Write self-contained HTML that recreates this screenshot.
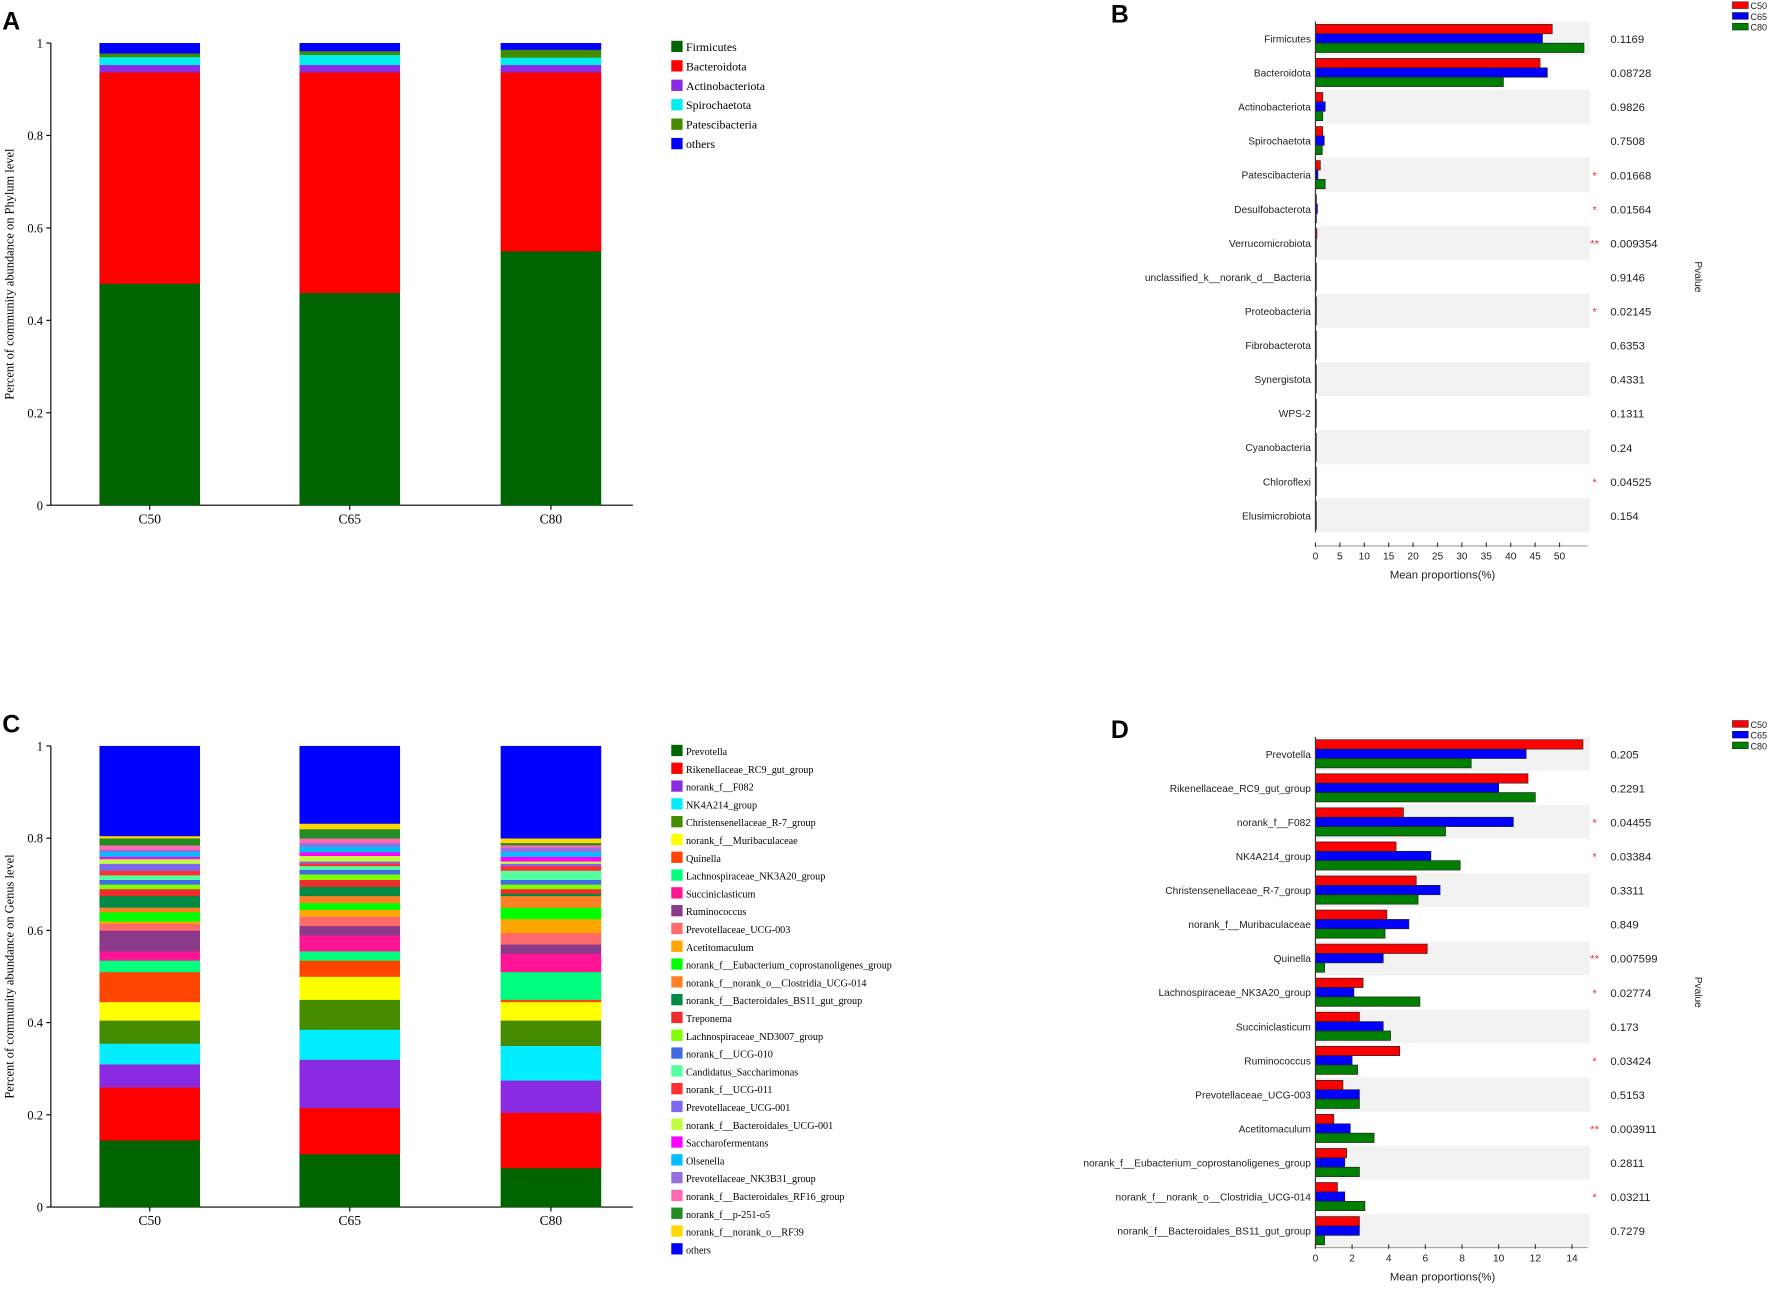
<!DOCTYPE html>
<html><head><meta charset="utf-8"><style>
html,body{margin:0;padding:0;background:#fff;}
svg{display:block;}
.ser{font-family:"Liberation Serif",serif;}
.san{font-family:"Liberation Sans",sans-serif;}
</style></head><body>
<svg id="fig" width="1772" height="1293" viewBox="0 0 1568 1144" xmlns="http://www.w3.org/2000/svg">
<rect width="1568" height="1144" fill="#fff"/>
<g id="pa"></g>
<g id="pb"></g>
<g id="pc"></g>
<g id="pd"></g>
</svg>
<script>
// ---------- Data ----------
const groups = ["C50","C65","C80"];
const phylaA = ["Firmicutes","Bacteroidota","Actinobacteriota","Spirochaetota","Patescibacteria","others"];
const phylaColors = ["#006400","#ff0000","#8a2be2","#00eeee","#458b00","#0000ff"];
const phylaC50 = [0.48,0.457,0.016,0.017,0.008,0.022];
const phylaC65 = [0.46,0.477,0.016,0.022,0.008,0.017];
const phylaC80 = [0.55,0.387,0.016,0.016,0.017,0.014];

const generaC = ["Prevotella","Rikenellaceae_RC9_gut_group","norank_f__F082","NK4A214_group","Christensenellaceae_R-7_group","norank_f__Muribaculaceae","Quinella","Lachnospiraceae_NK3A20_group","Succiniclasticum","Ruminococcus","Prevotellaceae_UCG-003","Acetitomaculum","norank_f__Eubacterium_coprostanoligenes_group","norank_f__norank_o__Clostridia_UCG-014","norank_f__Bacteroidales_BS11_gut_group","Treponema","Lachnospiraceae_ND3007_group","norank_f__UCG-010","Candidatus_Saccharimonas","norank_f__UCG-011","Prevotellaceae_UCG-001","norank_f__Bacteroidales_UCG-001","Saccharofermentans","Olsenella","Prevotellaceae_NK3B31_group","norank_f__Bacteroidales_RF16_group","norank_f__p-251-o5","norank_f__norank_o__RF39","others"];
const generaColors = ["#006400","#ff0000","#8a2be2","#00eeff","#458b00","#ffff00","#ff4500","#00ff7f","#ff1493","#8b3a8b","#ff6a6a","#ffa500","#00ff00","#ff7f24","#008b45","#ee2c2c","#7fff00","#4169e1","#54ff9f","#ff3030","#7b68ee","#c0ff3e","#ff00ff","#00bfff","#9370db","#ff69b4","#228b22","#ffd700","#0000ff"];
const generaC50 = [0.145,0.115,0.05,0.045,0.05,0.04,0.065,0.025,0.02,0.045,0.015,0.005,0.02,0.01,0.025,0.015,0.01,0.01,0.01,0.01,0.015,0.01,0.005,0.01,0.005,0.01,0.015,0.005,0.195];
const generaC65 = [0.115,0.10,0.105,0.065,0.065,0.05,0.035,0.02,0.035,0.02,0.02,0.015,0.015,0.015,0.02,0.015,0.012,0.01,0.008,0.006,0.004,0.012,0.008,0.012,0.008,0.01,0.02,0.012,0.168];
const generaC80 = [0.085,0.12,0.07,0.075,0.055,0.04,0.005,0.06,0.04,0.02,0.025,0.03,0.025,0.025,0.005,0.01,0.01,0.01,0.02,0.01,0.005,0.005,0.01,0.01,0.01,0.005,0.005,0.01,0.2];

const namesB = ["Firmicutes","Bacteroidota","Actinobacteriota","Spirochaetota","Patescibacteria","Desulfobacterota","Verrucomicrobiota","unclassified_k__norank_d__Bacteria","Proteobacteria","Fibrobacterota","Synergistota","WPS-2","Cyanobacteria","Chloroflexi","Elusimicrobiota"];
const bC50 = [48.5,46,1.5,1.5,1,0.2,0.3,0.1,0.2,0.1,0.1,0.1,0.1,0.1,0.1];
const bC65 = [46.5,47.5,2,1.8,0.5,0.4,0.1,0.1,0.1,0.1,0.1,0.1,0.1,0.1,0.1];
const bC80 = [55,38.5,1.5,1.4,2,0.2,0.1,0.1,0.1,0.1,0.1,0.1,0.1,0.1,0.1];
const pB = ["0.1169","0.08728","0.9826","0.7508","0.01668","0.01564","0.009354","0.9146","0.02145","0.6353","0.4331","0.1311","0.24","0.04525","0.154"];
const starsB = ["","","","","*","*","**","","*","","","","","*",""];
const ticksB = [0,5,10,15,20,25,30,35,40,45,50];

const namesD = ["Prevotella","Rikenellaceae_RC9_gut_group","norank_f__F082","NK4A214_group","Christensenellaceae_R-7_group","norank_f__Muribaculaceae","Quinella","Lachnospiraceae_NK3A20_group","Succiniclasticum","Ruminococcus","Prevotellaceae_UCG-003","Acetitomaculum","norank_f__Eubacterium_coprostanoligenes_group","norank_f__norank_o__Clostridia_UCG-014","norank_f__Bacteroidales_BS11_gut_group"];
const dC50 = [14.6,11.6,4.8,4.4,5.5,3.9,6.1,2.6,2.4,4.6,1.5,1.0,1.7,1.2,2.4];
const dC65 = [11.5,10.0,10.8,6.3,6.8,5.1,3.7,2.1,3.7,2.0,2.4,1.9,1.6,1.6,2.4];
const dC80 = [8.5,12.0,7.1,7.9,5.6,3.8,0.5,5.7,4.1,2.3,2.4,3.2,2.4,2.7,0.5];
const pD = ["0.205","0.2291","0.04455","0.03384","0.3311","0.849","0.007599","0.02774","0.173","0.03424","0.5153","0.003911","0.2811","0.03211","0.7279"];
const starsD = ["","","*","*","","","**","*","","*","","**","","*",""];
const ticksD = [0,2,4,6,8,10,12,14];

const tickStack = [0,0.2,0.4,0.6,0.8,1];
// ---------- Helpers ----------
const NS="http://www.w3.org/2000/svg";
function el(parent,tag,attrs,text){const e=document.createElementNS(NS,tag);for(const k in attrs)e.setAttribute(k,attrs[k]);if(text!==undefined)e.textContent=text;parent.appendChild(e);return e;}

// ---------- Stacked panels ----------
function stacked(gid,letter,top,bottom,series,names,colors,ytitle,legY,legStep,swatch,fontSize){
  const g=document.getElementById(gid);
  const ys=v=>bottom-(bottom-top)*v;
  const barX=[88,265,443], barW=89;
  const L=el(g,'text',{x:2,y:top-12,'font-size':22,'font-weight':'bold',class:'san'},letter);
  
  
  const ax=el(g,'line',{x1:45,y1:top,x2:45,y2:bottom,stroke:'#000','stroke-width':1});
  
  
  el(g,'line',{x1:45,y1:bottom,x2:560,y2:bottom,stroke:'#000','stroke-width':1});
  tickStack.forEach(t=>{
    el(g,'line',{x1:41,y1:ys(t),x2:45,y2:ys(t),stroke:'#000'});
    const tx=el(g,'text',{x:38,y:ys(t)+4,'font-size':11,'text-anchor':'end',class:'ser'},String(t));
    
    
  });
  const yt=el(g,'text',{transform:`translate(12,${(top+bottom)/2}) rotate(-90)`,'font-size':11,'text-anchor':'middle',class:'ser'},ytitle);
  
  
  series.forEach((vals,gi)=>{
    let acc=0;
    vals.forEach((v,i)=>{
      const r=el(g,'rect',{x:barX[gi],y:ys(acc+v),width:barW,height:Math.max(0,ys(acc)-ys(acc+v))+0.3,fill:colors[i]});
      
      
      acc+=v;
    });
    el(g,'line',{x1:barX[gi]+barW/2,y1:bottom,x2:barX[gi]+barW/2,y2:bottom+4,stroke:'#000'});
    const c=el(g,'text',{x:barX[gi]+barW/2,y:bottom+16,'font-size':12,'text-anchor':'middle',class:'ser'},groups[gi]);
    
    
  });
  names.forEach((n,i)=>{
    const y=legY+i*legStep;
    const s=el(g,'rect',{x:594,y:y-swatch/2,width:swatch,height:swatch,fill:colors[i]});
    
    
    const t=el(g,'text',{x:607,y:y+4,'font-size':fontSize,class:'ser'},n);
    
    
  });
}
stacked('pa','A',38,447,[phylaC50,phylaC65,phylaC80],phylaA,phylaColors,'Percent of community abundance on Phylum level',41,17.2,10,10.5);
stacked('pc','C',660,1068,[generaC50,generaC65,generaC80],generaC,generaColors,'Percent of community abundance on Genus level',664,15.75,10,9);

// ---------- Grouped horizontal bar panels ----------
function grouped(gid,letter,top,names,v1,v2,v3,pvals,stars,ticks,maxV,x0,xMax,legY,axisY){
  const g=document.getElementById(gid);
  const xs=v=>x0+(xMax-x0)*v/maxV;
  const step=30.14, rowC=i=>top+i*step, bh=8.3;
  const L=el(g,'text',{x:983,y:top-14,'font-size':22,'font-weight':'bold',class:'san'},letter);
  
  
  names.forEach((n,i)=>{
    const c=rowC(i);
    if(i%2===0){const bg=el(g,'rect',{x:x0,y:c-step/2,width:1407-x0,height:step,fill:'#f2f2f2'});
      
      }
    const lab=el(g,'text',{x:1160,y:c+3.5,'font-size':9,'text-anchor':'end',fill:'#222',class:'san'},n);
    
    
    [[v1,'#ff0000'],[v2,'#0000ff'],[v3,'#008000']].forEach(([arr,col],k)=>{
      const r=el(g,'rect',{x:x0,y:c-12.5+k*bh,width:Math.max(0.8,xs(arr[i])-x0),height:bh,fill:col,stroke:'#222','stroke-width':0.6});
      
      
    });
    if(stars[i]){const s=el(g,'text',{x:1411,y:c+4,'font-size':10,'text-anchor':'middle',fill:'#e33',class:'san'},stars[i]);
      
      }
    const p=el(g,'text',{x:1425,y:c+4,'font-size':10,fill:'#222',class:'san'},pvals[i]);
    
    
  });
  const ax=el(g,'line',{x1:x0,y1:top-step/2,x2:x0,y2:top+14.5*step,stroke:'#333','stroke-width':1});
  
  
  el(g,'line',{x1:x0,y1:axisY,x2:1405,y2:axisY,stroke:'#888','stroke-width':0.8});
  ticks.forEach(t=>{
    el(g,'line',{x1:xs(t),y1:axisY-3,x2:xs(t),y2:axisY+1,stroke:'#333','stroke-width':1});
    const tx=el(g,'text',{x:xs(t),y:axisY+12,'font-size':9,'text-anchor':'middle',fill:'#222',class:'san'},String(t));
    
    
  });
  const xt=el(g,'text',{x:(x0+1405)/2-8,y:axisY+29,'font-size':10,'text-anchor':'middle',fill:'#222',class:'san'},'Mean proportions(%)');
  
  
  const pt=el(g,'text',{transform:`translate(1500,${top+7*step}) rotate(90)`,'font-size':9,'text-anchor':'middle',fill:'#222',class:'san'},'Pvalue');
  
  
  [['C50','#ff0000'],['C65','#0000ff'],['C80','#008000']].forEach(([n,c],k)=>{
    const s=el(g,'rect',{x:1533,y:legY+k*9.5-3.5,width:14,height:6,fill:c,stroke:'#222','stroke-width':0.5});
    
    
    const t=el(g,'text',{x:1549,y:legY+k*9.5+3,'font-size':8,fill:'#222',class:'san'},n);
    
    
  });
}
grouped('pb','B',34,namesB,bC50,bC65,bC80,pB,starsB,ticksB,50,1164,1380,5,483);
grouped('pd','D',667,namesD,dC50,dC65,dC80,pD,starsD,ticksD,14,1164,1391,641,1104);
</script>
</body></html>
